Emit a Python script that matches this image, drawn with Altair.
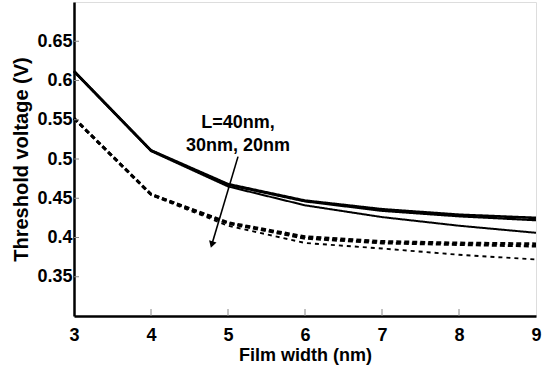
import altair as alt
import pandas as pd

# Data
film_width = [3, 4, 5, 6, 7, 8, 9]
solid_40 = [0.612, 0.511, 0.468, 0.447, 0.436, 0.429, 0.425]
solid_30 = [0.612, 0.511, 0.467, 0.446, 0.434, 0.427, 0.422]
solid_20 = [0.611, 0.510, 0.465, 0.441, 0.426, 0.415, 0.406]
dashed_40 = [0.552, 0.455, 0.419, 0.401, 0.395, 0.393, 0.392]
dashed_30 = [0.552, 0.455, 0.418, 0.399, 0.393, 0.391, 0.389]
dashed_20 = [0.551, 0.454, 0.415, 0.393, 0.386, 0.378, 0.372]

x_ticks = [3, 4, 5, 6, 7, 8, 9]
y_ticks = [0.35, 0.4, 0.45, 0.5, 0.55, 0.6, 0.65]
inner_x_ticks = [4, 5, 6, 7, 8]

annot_lines = ["L=40nm,", "30nm, 20nm"]
annot_x = [5.13, 5.13]
annot_y = [0.546, 0.517]
arrow_start = (5.13, 0.503)
arrow_end = (4.79, 0.391)

W, H = 462, 314
FONT = "Liberation Sans"

xs = alt.Scale(domain=[3, 9], nice=False, zero=False)
ys = alt.Scale(domain=[0.3, 0.7], nice=False, zero=False)

series = [
    (solid_40, [1, 0], 2.6),
    (solid_30, [1, 0], 2.2),
    (solid_20, [1, 0], 2.0),
    (dashed_40, [5, 3], 2.8),
    (dashed_30, [5, 3], 2.8),
    (dashed_20, [4, 4], 1.9),
]

layers = []
for i, (vals, dash, sw) in enumerate(series):
    df = pd.DataFrame({"w": film_width, "v": vals})
    x_enc = alt.X("w:Q", scale=xs,
                  axis=alt.Axis(values=x_ticks, format="d", title="Film width (nm)",
                                ticks=False, grid=False, labelPadding=10,
                                labelFont=FONT, labelFontSize=18, labelFontWeight="bold",
                                labelColor="black", labelFlush=False,
                                titleFont=FONT, titleFontSize=18,
                                titleFontWeight="bold", titleColor="black", titlePadding=2,
                                domainColor="black", domainWidth=2.5)) if i == 0 else alt.X("w:Q", scale=xs)
    y_enc = alt.Y("v:Q", scale=ys,
                  axis=alt.Axis(values=y_ticks, format=".2~f", title="Threshold voltage (V)",
                                ticks=False, grid=False, labelPadding=2,
                                labelFont=FONT, labelFontSize=18, labelFontWeight="bold",
                                labelColor="black", labelFlush=False,
                                titleFont=FONT, titleFontSize=20, titleFontWeight="bold",
                                titleColor="black", titlePadding=5,
                                domainColor="black", domainWidth=2.5)) if i == 0 else alt.Y("v:Q", scale=ys)
    layers.append(
        alt.Chart(df).mark_line(color="black", strokeDash=dash, strokeWidth=sw)
        .encode(x=x_enc, y=y_enc)
    )

# inner tick marks
xt = pd.DataFrame({"w": inner_x_ticks})
layers.append(alt.Chart(xt).mark_rule(color="#888888", strokeWidth=1)
              .encode(x=alt.X("w:Q", scale=xs), y=alt.value(H), y2=alt.value(H - 7)))
yt = pd.DataFrame({"v": y_ticks})
layers.append(alt.Chart(yt).mark_rule(color="#888888", strokeWidth=1)
              .encode(y=alt.Y("v:Q", scale=ys), x=alt.value(0), x2=alt.value(5)))

# annotation arrow
ar = pd.DataFrame({"x": [arrow_start[0]], "y": [arrow_start[1]],
                   "x2": [arrow_end[0]], "y2": [arrow_end[1]]})
layers.append(alt.Chart(ar).mark_rule(color="black", strokeWidth=1.6)
              .encode(x=alt.X("x:Q", scale=xs), y=alt.Y("y:Q", scale=ys), x2="x2:Q", y2="y2:Q"))
ah = pd.DataFrame({"x": [arrow_end[0]], "y": [arrow_end[1]]})
layers.append(alt.Chart(ah).mark_point(shape="triangle-down", filled=True, color="black",
                                       size=60, angle=17, opacity=1)
              .encode(x=alt.X("x:Q", scale=xs), y=alt.Y("y:Q", scale=ys)))

tx = pd.DataFrame({"x": annot_x, "y": annot_y, "t": annot_lines})
layers.append(alt.Chart(tx).mark_text(font=FONT, fontSize=18, fontWeight="bold", color="black",
                                      align="center", baseline="middle")
              .encode(x=alt.X("x:Q", scale=xs), y=alt.Y("y:Q", scale=ys), text="t:N"))

chart = alt.layer(*layers).properties(
    width=W, height=H,
    autosize=alt.AutoSizeParams(type="none"),
    padding={"left": 74, "top": 2, "right": 18, "bottom": 57},
).configure_view(stroke="black", strokeWidth=2.5).configure(background="white")

chart.save("out.html", embed_options={"renderer": "svg", "actions": False})
